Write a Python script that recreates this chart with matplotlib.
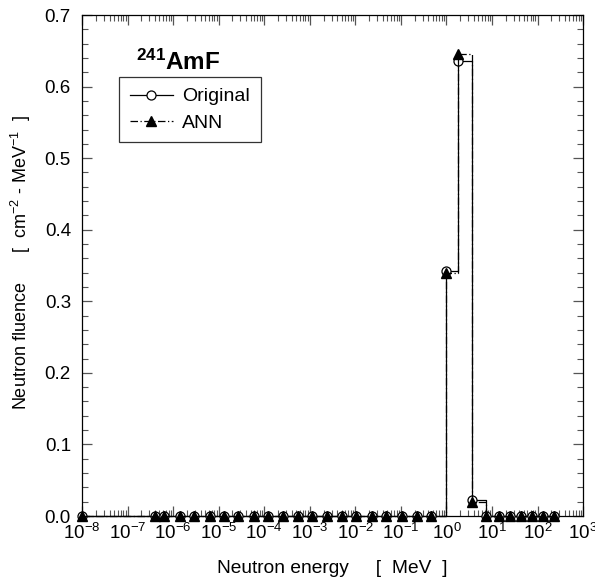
import numpy as np
import matplotlib.pyplot as plt
from matplotlib.ticker import MultipleLocator, LogLocator, NullFormatter

plt.rcParams['font.family'] = ['Liberation Sans', 'DejaVu Sans']
plt.rcParams['mathtext.fontset'] = 'custom'
plt.rcParams['mathtext.rm'] = 'Liberation Sans'
plt.rcParams['mathtext.it'] = 'Liberation Sans:italic'
plt.rcParams['mathtext.bf'] = 'Liberation Sans:bold'
plt.rcParams['axes.unicode_minus'] = False

# energy bins [MeV] (31 groups)
energy = [1.0e-8, 4.0e-7, 6.3e-7, 1.42e-6, 2.9e-6, 6.4e-6, 1.3e-5, 2.7e-5,
          6.0e-5, 1.2e-4, 2.6e-4, 5.5e-4, 1.12e-3, 2.4e-3, 5.1e-3, 1.04e-2,
          2.3e-2, 4.7e-2, 1.06e-1, 2.26e-1, 4.6e-1, 1.0, 1.8, 3.65,
          7.4, 14.3, 25.0, 43.0, 76.0, 132.0, 229.0]
original = [0.0] * 21 + [0.343, 0.636, 0.022] + [0.0] * 7
ann = [0.0] * 21 + [0.340, 0.646, 0.019] + [0.0] * 7

fig = plt.figure(figsize=(5.95, 5.82), dpi=100)
ax = fig.add_axes([0.138, 0.1134, 0.842, 0.8608])

ax.plot(energy, original, drawstyle='steps-post', color='black', lw=0.9,
        marker='o', ms=6.5, mfc='white', mec='black', mew=0.9,
        label='Original', clip_on=False, zorder=3)
ax.plot(energy, ann, drawstyle='steps-post', color='black', lw=0.9,
        ls=(0, (6, 2, 1, 2)), marker='^', ms=6.5, mfc='black', mec='black',
        label='ANN', clip_on=False, zorder=4)

ax.set_xscale('log')
ax.set_xlim(1e-8, 1e3)
ax.set_ylim(0, 0.7)
ax.xaxis.set_major_locator(LogLocator(base=10, numticks=20))
ax.xaxis.set_minor_locator(LogLocator(base=10, subs=np.arange(2, 10), numticks=20))
ax.xaxis.set_minor_formatter(NullFormatter())
ax.yaxis.set_major_locator(MultipleLocator(0.1))
ax.yaxis.set_minor_locator(MultipleLocator(0.02))
ax.yaxis.set_major_formatter(plt.FormatStrFormatter('%.1f'))

ax.tick_params(which='both', direction='in', top=True, right=True,
               labelsize=13.5, color='#555555')
ax.tick_params(which='major', length=7, width=0.9, pad=5)
ax.tick_params(which='minor', length=4, width=0.8)
ax.tick_params(axis='y', which='major', pad=8)
for s in ax.spines.values():
    s.set_linewidth(0.9)

ax.set_xlabel('Neutron energy     [  MeV  ]', fontsize=13.8, labelpad=12)
ax.set_ylabel('Neutron fluence      [  cm$^{-2}$ - MeV$^{-1}$  ]', fontsize=13)
ax.yaxis.set_label_coords(-0.098, 0.505)

ax.text(0.108, 0.905, r'$\mathbf{^{241}}$AmF', transform=ax.transAxes,
        fontsize=17.5, fontweight='bold', ha='left', va='center')

leg = ax.legend(loc='upper left', bbox_to_anchor=(0.074, 0.876), fontsize=14,
                frameon=True, fancybox=False, edgecolor='black',
                handlelength=2.2, borderpad=0.55, labelspacing=0.45,
                handletextpad=0.5, borderaxespad=0)
leg.get_frame().set_linewidth(0.9)

fig.savefig('out.png', dpi=100)
